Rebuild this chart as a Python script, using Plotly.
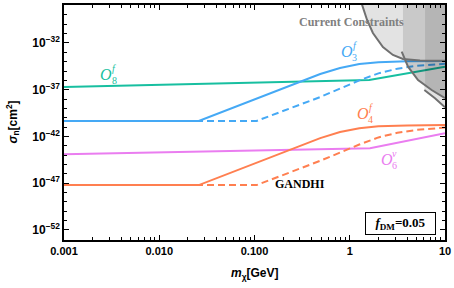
import numpy as np
import plotly.graph_objects as go

# ---------------- data ----------------
# O8^f (teal)
m_o8 = [0.001, 1.6, 10]
lsig_o8 = [-36.7, -35.95, -34.55]
# O6^v (violet)
m_o6 = [0.001, 1.63, 10]
lsig_o6 = [-43.9, -43.26, -41.66]
# O3^f (blue) solid / dashed
m_o3_solid = [0.001, 0.026, 0.49, 0.79, 1.26, 2.0, 4.0, 10]
lsig_o3_solid = [-40.34, -40.34, -35.32, -34.67, -34.25, -34.05, -33.96, -33.92]
m_o3_dash = [0.001, 0.105, 0.49, 0.79, 1.26, 2.0, 3.16, 5.0, 10]
lsig_o3_dash = [-40.34, -40.34, -37.78, -36.85, -36.0, -35.25, -34.75, -34.45, -34.22]
# O4^f (orange) solid / dashed
m_o4_solid = [0.001, 0.026, 0.49, 0.79, 1.26, 2.0, 4.0, 10]
lsig_o4_solid = [-47.2, -47.2, -42.18, -41.53, -41.11, -40.91, -40.82, -40.78]
m_o4_dash = [0.001, 0.105, 0.49, 0.79, 1.26, 2.0, 3.16, 5.0, 10]
lsig_o4_dash = [-47.2, -47.2, -44.6, -43.7, -42.86, -42.1, -41.6, -41.3, -41.05]

# current constraint boundaries
m_c1 = [1.33, 1.35, 1.52, 1.75, 2.23, 2.84, 3.62, 5.47, 10]
lsig_c1 = [-27.0, -27.94, -29.54, -30.93, -32.43, -33.28, -33.71, -33.88, -33.9]
m_c2 = [3.51, 4.09, 5.21, 7.24, 10]
lsig_c2 = [-32.93, -34.53, -35.96, -37.03, -37.91]
m_c3 = [6.07, 7.85, 10]
lsig_c3 = [-37.03, -37.91, -38.88]
m_band1 = 3.62   # left edge of medium band
m_band2 = 6.17   # left edge of dark band
lsig_top = -27.0

x_tickvals = [0.001, 0.01, 0.1, 1, 10]
x_ticktext = ["0.001", "0.010", "0.100", "1", "10"]
y_exps = [-52, -47, -42, -37, -32]

C_TEAL = "#17BFA0"
C_BLUE = "#45A9F5"
C_ORANGE = "#FF7F50"
C_VIOLET = "#EA7DF0"
C_GREY = "#707070"

fig = go.Figure()

def add_line(m, ls, color, dash="solid"):
    fig.add_trace(go.Scatter(x=m, y=10 ** np.array(ls, dtype=float), mode="lines",
                             line=dict(color=color, width=2, dash=dash),
                             showlegend=False, hoverinfo="skip"))

add_line(m_o8, lsig_o8, C_TEAL)
add_line(m_o6, lsig_o6, C_VIOLET)
add_line(m_o3_dash, lsig_o3_dash, C_BLUE, "7px,4px")
add_line(m_o3_solid, lsig_o3_solid, C_BLUE)
add_line(m_o4_dash, lsig_o4_dash, C_ORANGE, "7px,4px")
add_line(m_o4_solid, lsig_o4_solid, C_ORANGE)

# ----- constraint regions (semi-transparent overlays) -----
lm_c2 = np.log10(m_c2)

def c2_at(m):
    return np.interp(np.log10(m), lm_c2, lsig_c2)

def add_fill(mx, ls, alpha):
    fig.add_trace(go.Scatter(x=mx, y=10 ** np.array(ls, dtype=float), mode="lines",
                             fill="toself", fillcolor=f"rgba(0,0,0,{alpha})",
                             line=dict(width=0), showlegend=False, hoverinfo="skip"))

# light region left of the medium band
idx = [i for i, v in enumerate(m_c1) if v <= m_band1]
px = [m_c1[i] for i in idx] + [m_band1, m_c1[0]]
py = [lsig_c1[i] for i in idx] + [lsig_top, lsig_top]
add_fill(px, py, 0.11)

# medium band
mb = [m_band1] + [v for v in m_c2 if m_band1 < v < m_band2] + [m_band2]
add_fill([m_band1] + mb + [m_band2],
         [lsig_top] + [c2_at(v) for v in mb] + [lsig_top], 0.21)
# dark band
md = [m_band2] + [v for v in m_c2 if v > m_band2]
add_fill([m_band2] + md + [md[-1]],
         [lsig_top] + [c2_at(v) for v in md] + [lsig_top], 0.29)
# light sliver between curve 2 and curve 3
ms = [m_c3[0]] + [v for v in m_c2 if v > m_c3[0]]
add_fill(ms + m_c3[::-1], [c2_at(v) for v in ms] + lsig_c3[::-1], 0.11)

for mm, ll in [(m_c1, lsig_c1), (m_c2, lsig_c2), (m_c3, lsig_c3)]:
    fig.add_trace(go.Scatter(x=mm, y=10 ** np.array(ll, dtype=float), mode="lines",
                             line=dict(color=C_GREY, width=2), showlegend=False,
                             hoverinfo="skip"))

# ---------------- labels ----------------
labels = [
    ("8", "f", 0.00276, -35.42, C_TEAL),
    ("3", "f", 0.935, -32.96, C_BLUE),
    ("4", "f", 1.377, -39.59, C_ORANGE),
    ("6", "v", 2.46, -44.51, C_VIOLET),
]
serif = "Liberation Serif, Times New Roman, serif"
for sub, sup, mx, ly, col in labels:
    fig.add_annotation(x=np.log10(mx), y=ly, text="<i>O</i>", showarrow=False,
                       font=dict(family=serif, size=16, color=col))
    fig.add_annotation(x=np.log10(mx), y=ly, text=f"<i>{sup}</i>", showarrow=False,
                       xshift=8, yshift=6, font=dict(family=serif, size=10, color=col))
    fig.add_annotation(x=np.log10(mx), y=ly, text=sub, showarrow=False,
                       xshift=8, yshift=-6, font=dict(family=serif, size=10, color=col))

fig.add_annotation(x=np.log10(0.30), y=-47.08, text="GANDHI", showarrow=False,
                   font=dict(family=serif, size=12, color="black", weight="bold"))
fig.add_annotation(x=np.log10(1.04), y=-29.75, text="Current Constraints", showarrow=False,
                   font=dict(family=serif, size=12, color="#808080", weight="bold"))
fig.add_annotation(xref="paper", yref="paper", x=0.883, y=0.070,
                   xanchor="center", yanchor="middle", width=63, height=15,
                   text="<i>f</i><sub>DM</sub>=0.05", showarrow=False,
                   bgcolor="white", bordercolor="black", borderwidth=1, borderpad=3,
                   font=dict(family=serif, size=13, color="black", weight="bold"))

sans = "Liberation Sans, Arial, sans-serif"
fig.add_annotation(xref="paper", yref="paper", x=0.5, y=0, xanchor="center",
                   yanchor="middle", yshift=-34,
                   text="<i>m</i><sub>χ</sub>[GeV]", showarrow=False,
                   font=dict(family=sans, size=12, color="black", weight="bold"))
fig.add_annotation(xref="paper", yref="paper", x=0, y=0.5, xanchor="center",
                   yanchor="middle", xshift=-52,
                   textangle=-90, text="<i>σ</i><sub>n</sub>[cm<sup>2</sup>]", showarrow=False,
                   font=dict(family=sans, size=12, color="black", weight="bold"))

x_minor = [k * 10.0 ** e for e in range(-3, 1) for k in range(2, 10)]
y_minor = [10.0 ** e for e in range(-53, -27)]

fig.update_xaxes(type="log", range=[-3, 1], tickvals=x_tickvals, ticktext=x_ticktext,
                 ticks="inside", ticklen=5, tickcolor="black", tickwidth=1,
                 minor=dict(tickvals=x_minor, ticks="inside", ticklen=3, tickcolor="black"),
                 showline=True, linecolor="black", linewidth=1.5, mirror="allticks",
                 showgrid=False, zeroline=False, automargin=False,
                 tickfont=dict(family=sans, size=11, color="black", weight="bold"))
fig.update_yaxes(type="log", range=[-53.07, -27.94],
                 tickvals=[10.0 ** e for e in y_exps],
                 ticktext=[f"10<sup>\u2212{-e}</sup>" for e in y_exps],
                 ticks="inside", ticklen=5, tickcolor="black", tickwidth=1,
                 minor=dict(tickvals=y_minor, ticks="inside", ticklen=3, tickcolor="black"),
                 showline=True, linecolor="black", linewidth=1.5, mirror="allticks",
                 showgrid=False, zeroline=False, automargin=False,
                 tickfont=dict(family=sans, size=12, color="black", weight="bold"))

fig.update_layout(width=454, height=288, autosize=False,
                  margin=dict(l=64, r=9, t=5, b=48),
                  plot_bgcolor="white", paper_bgcolor="white", showlegend=False)

fig.write_html("out.html", config={"displayModeBar": False},
               post_script="document.body.style.margin='0';document.body.style.padding='0';")
